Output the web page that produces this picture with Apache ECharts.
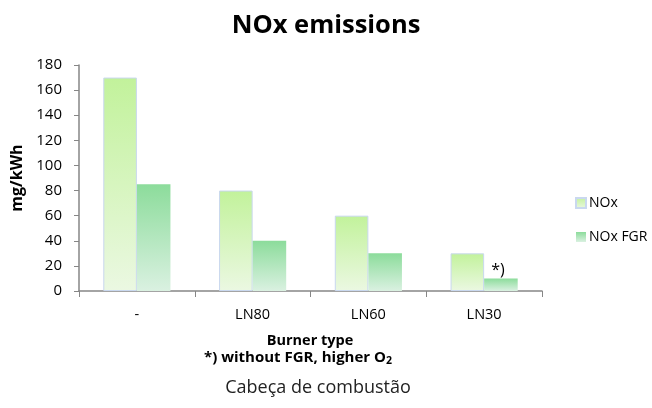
<!DOCTYPE html>
<html>
<head>
<meta charset="utf-8">
<script src="https://cdn.jsdelivr.net/npm/echarts@6/dist/echarts.min.js"></script>
<style>
  html, body { margin: 0; padding: 0; background: #fff; }
  #chart { width: 652px; height: 408px; }
</style>
</head>
<body>
<div id="chart"></div>
<script>
// Burner types and measured NOx emissions (mg/kWh)
const categories = ['-', 'LN80', 'LN60', 'LN30'];
const noxValues = [170, 80, 60, 30];
const noxFgrValues = [85, 40, 30, 10];
const yTicks = { min: 0, max: 180, interval: 20 };

const FONT = '"Open Sans", "Noto Sans", sans-serif';

const chart = echarts.init(document.getElementById('chart'), null, { renderer: 'canvas' });

const noxGradient = new echarts.graphic.LinearGradient(0, 0, 0, 1, [
  { offset: 0, color: '#c2f29b' },
  { offset: 1, color: '#ebf8e2' }
]);
const fgrGradient = new echarts.graphic.LinearGradient(0, 0, 0, 1, [
  { offset: 0, color: '#8cdc9b' },
  { offset: 1, color: '#daf1e1' }
]);

// The LN30 FGR bar carries the "*)" footnote marker
const fgrData = noxFgrValues.map((v, i) => i === categories.length - 1
  ? { value: v, label: { show: true, position: 'top', formatter: '*)', offset: [-3, 5],
                         fontSize: 16, color: '#000', fontFamily: FONT } }
  : v);

chart.setOption({
  animation: false,
  textStyle: { fontFamily: FONT },
  title: {
    text: 'NOx emissions', left: 'center', top: 8,
    textStyle: { fontSize: 25.5, fontWeight: 'bold', color: '#000', fontFamily: FONT }
  },
  legend: {
    orient: 'vertical',
    left: 570, top: 191,
    itemWidth: 10, itemHeight: 10,
    itemGap: 20,
    icon: 'rect',
    textStyle: { fontSize: 14, color: '#000', fontFamily: FONT, padding: [0, 0, 0, -2] },
    data: ['NOx', 'NOx FGR']
  },
  grid: { left: 79, right: 110, top: 65, bottom: 117 },
  xAxis: {
    type: 'category',
    data: categories,
    axisLine: { lineStyle: { color: '#868686', width: 1.5 } },
    axisTick: { show: true, alignWithLabel: false, length: 6, lineStyle: { color: '#868686' } },
    axisLabel: { fontSize: 14.5, color: '#000', margin: 16, fontFamily: FONT }
  },
  yAxis: {
    type: 'value',
    min: yTicks.min, max: yTicks.max, interval: yTicks.interval,
    name: 'mg/kWh',
    nameLocation: 'middle',
    nameGap: 46,
    nameRotate: 90,
    nameTextStyle: { fontSize: 16, fontWeight: 'bold', color: '#000', fontFamily: FONT },
    axisLine: { show: true, lineStyle: { color: '#868686', width: 1.5 } },
    axisTick: { show: true, length: 5, lineStyle: { color: '#868686' } },
    axisLabel: { fontSize: 15, color: '#000', margin: 17, fontFamily: FONT },
    splitLine: { show: false }
  },
  series: [
    {
      name: 'NOx', type: 'bar', data: noxValues,
      barGap: '0%', barCategoryGap: '42%',
      itemStyle: { color: noxGradient, borderColor: '#c9d8ef', borderWidth: 1 }
    },
    {
      name: 'NOx FGR', type: 'bar', data: fgrData,
      itemStyle: { color: fgrGradient }
    }
  ],
  graphic: [
    { type: 'text', x: 310, y: 341,
      style: { text: 'Burner type', fontSize: 14.5, fontWeight: 'bold', fill: '#000',
               fontFamily: FONT, align: 'center', verticalAlign: 'middle' } },
    { type: 'text', x: 298, y: 358,
      style: { text: '*) without FGR, higher O{sub|2}', fontSize: 15, fontWeight: 'bold', fill: '#000',
               fontFamily: FONT, align: 'center', verticalAlign: 'middle',
               rich: { sub: { fontSize: 10.5, fontWeight: 'bold', fontFamily: FONT, fill: '#000',
                              verticalAlign: 'bottom', padding: [7, 0, 0, 0] } } } },
    { type: 'text', x: 318, y: 388,
      style: { text: 'Cabeça de combustão', fontSize: 18, fill: '#222',
               fontFamily: FONT, align: 'center', verticalAlign: 'middle' } }
  ]
});
</script>
</body>
</html>
